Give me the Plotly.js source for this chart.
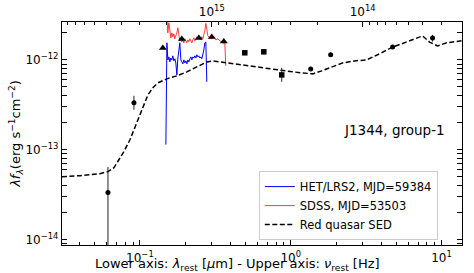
<!DOCTYPE html>
<html>
<head>
<meta charset="utf-8">
<script src="https://cdn.plot.ly/plotly-3.0.1.min.js"></script>
<style>html,body{margin:0;padding:0;background:#fff;}#chart{width:474px;height:273px;}</style>
</head>
<body>
<div id="chart"></div>
<script>
// ---- Data (rest wavelength in micron, lambda*f_lambda in erg s^-1 cm^-2) ----
const sedLam = [0.0304, 0.0401, 0.0543, 0.0614, 0.0673, 0.0715, 0.0783, 0.0859, 0.0955, 0.1047, 0.1130, 0.1219, 0.1316, 0.1510, 0.1758, 0.2048, 0.2314, 0.2497, 0.2778, 0.3043, 0.3387, 0.3769, 0.4595, 0.5515, 0.6526, 0.7602, 0.8852, 1.031, 1.201, 1.399, 1.604, 1.813, 2.017, 2.210, 2.653, 3.186, 3.885, 4.738, 5.434, 6.329, 6.936, 7.484, 8.329, 9.408, 10.79, 13.57];
const sedFlux = [5.01e-14, 5.14e-14, 5.41e-14, 5.70e-14, 6.31e-14, 7.36e-14, 9.50e-14, 1.29e-13, 2.05e-13, 3.01e-13, 4.08e-13, 4.89e-13, 5.55e-13, 6.15e-13, 6.64e-13, 7.36e-13, 8.15e-13, 8.80e-13, 9.50e-13, 9.75e-13, 9.50e-13, 9.26e-13, 8.80e-13, 8.58e-13, 8.15e-13, 7.94e-13, 7.55e-13, 7.36e-13, 7.17e-13, 6.99e-13, 7.55e-13, 8.15e-13, 8.80e-13, 9.26e-13, 9.75e-13, 1.0e-12, 1.17e-12, 1.39e-12, 1.51e-12, 1.67e-12, 1.75e-12, 1.85e-12, 1.58e-12, 1.43e-12, 1.55e-12, 1.63e-12];

const sdssLam = [0.1510, 0.1532, 0.1556, 0.1580, 0.1604, 0.1628, 0.1653, 0.1679, 0.1705, 0.1731, 0.1758, 0.1785, 0.1813, 0.1840, 0.1869, 0.1897, 0.1927, 0.1956, 0.1986, 0.2017, 0.2048, 0.2080, 0.2112, 0.2144, 0.2177, 0.2211, 0.2244, 0.2279, 0.2314, 0.2350, 0.2386, 0.2422, 0.2459, 0.2497, 0.2535, 0.2574, 0.2614, 0.2654, 0.2694, 0.2736, 0.2778, 0.2820, 0.2907, 0.2997, 0.3090, 0.3186, 0.3285, 0.3387, 0.3492, 0.3600, 0.3655, 0.3711];
const sdssFlux = [2.94e-12, 2.00e-12, 2.59e-12, 1.91e-12, 1.76e-12, 2.00e-12, 1.81e-12, 1.95e-12, 1.72e-12, 1.86e-12, 2.00e-12, 2.28e-12, 1.91e-12, 1.63e-12, 1.72e-12, 1.59e-12, 1.67e-12, 1.55e-12, 1.72e-12, 1.63e-12, 1.55e-12, 1.67e-12, 1.59e-12, 1.72e-12, 1.63e-12, 1.55e-12, 1.67e-12, 1.76e-12, 1.63e-12, 1.72e-12, 1.81e-12, 1.72e-12, 1.86e-12, 1.76e-12, 1.67e-12, 1.81e-12, 1.72e-12, 1.91e-12, 2.11e-12, 2.55e-12, 2.17e-12, 1.86e-12, 1.76e-12, 1.72e-12, 1.81e-12, 1.67e-12, 1.72e-12, 1.63e-12, 1.59e-12, 1.52e-12, 1.55e-12, 8.58e-13];

const hetLam = [0.1487, 0.1510, 0.1532, 0.1556, 0.1580, 0.1604, 0.1628, 0.1653, 0.1679, 0.1705, 0.1731, 0.1758, 0.1785, 0.1813, 0.1840, 0.1869, 0.1897, 0.1927, 0.1956, 0.1986, 0.2017, 0.2048, 0.2080, 0.2112, 0.2144, 0.2177, 0.2211, 0.2244, 0.2279, 0.2314, 0.2350, 0.2386, 0.2422, 0.2459, 0.2497, 0.2535, 0.2574, 0.2614, 0.2654, 0.2694, 0.2736, 0.2778];
const hetFlux = [1.14e-13, 1.55e-12, 1.0e-12, 1.08e-12, 9.5e-13, 1.05e-12, 1.0e-12, 1.11e-12, 9.75e-13, 1.03e-12, 9.26e-13, 6.81e-13, 1.05e-12, 1.29e-12, 1.55e-12, 1.0e-12, 9.5e-13, 9.03e-13, 1.0e-12, 9.26e-13, 9.75e-13, 9.03e-13, 1.0e-12, 9.5e-13, 1.03e-12, 1.08e-12, 1.0e-12, 1.08e-12, 1.05e-12, 1.11e-12, 1.05e-12, 1.14e-12, 1.08e-12, 1.11e-12, 1.05e-12, 1.08e-12, 1.03e-12, 1.14e-12, 1.29e-12, 1.55e-12, 1.58e-12, 5.70e-13];

const triLam = [0.1420, 0.1897, 0.2459, 0.2997, 0.3600];
const triFlux = [1.36e-12, 1.71e-12, 1.75e-12, 1.80e-12, 1.60e-12];

const uvLam = [0.0614, 0.0913];
const uvFlux = [3.33e-14, 3.33e-13];
const uvErrUp = [3.1e-14, 0.65e-13];
const uvErrDown = [3.3e-14, 0.55e-13];

const sqLam = [0.496, 0.663, 0.872];
const sqFlux = [1.20e-12, 1.23e-12, 6.81e-13];
const sqErrUp = [0.4e-13, 0.4e-13, 1.34e-13];
const sqErrDown = [0.4e-13, 0.4e-13, 1.1e-13];

const irLam = [1.357, 1.84, 4.74, 8.72];
const irFlux = [7.94e-13, 1.14e-12, 1.39e-12, 1.75e-12];
const irErr = [0.3e-13, 0.4e-13, 0.5e-13, 1.5e-13];

// ---- Tick labels ----
const xTickVals = [0.1, 1, 10];
const xTickText = ['10<sup>−1</sup>', '10<sup>0</sup>', '10<sup>1</sup>'];
const yTickVals = [1e-14, 1e-13, 1e-12];
const yTickText = ['10<sup>−14</sup>', '10<sup>−13</sup>', '10<sup>−12</sup>'];
const nuTickVals = [1e15, 1e14];
const nuTickText = ['10<sup>15</sup>', '10<sup>14</sup>'];

const C_UM = 2.998e14; // speed of light in micron/s
const mant = [2,3,4,5,6,7,8,9];
const xMinor = [];
[-2,-1,0,1].forEach(d => mant.forEach(m => xMinor.push(m * Math.pow(10, d))));
const yMinor = [];
[-15,-14,-13,-12].forEach(d => mant.forEach(m => yMinor.push(m * Math.pow(10, d))));
const nuMinor = [];
[13,14,15].forEach(d => mant.forEach(m => nuMinor.push(C_UM / (m * Math.pow(10, d)))));

const FONT = 'DejaVu Sans, sans-serif';

const traces = [
  {x: hetLam, y: hetFlux, mode: 'lines', line: {color: '#0000ff', width: 1}, name: 'HET/LRS2, MJD=59384'},
  {x: sdssLam, y: sdssFlux, mode: 'lines', line: {color: '#ff0000', width: 1}, opacity: 0.75, name: 'SDSS, MJD=53503'},
  {x: sedLam, y: sedFlux, mode: 'lines', line: {color: 'black', width: 1.5, dash: '5px,2.5px'}, name: 'Red quasar SED'},
  {x: triLam, y: triFlux, mode: 'markers', marker: {symbol: 'triangle-up', size: 7, color: 'black'}, showlegend: false},
  {x: uvLam, y: uvFlux, mode: 'markers', marker: {symbol: 'circle', size: 5, color: 'black'}, showlegend: false,
   error_y: {type: 'data', symmetric: false, array: uvErrUp, arrayminus: uvErrDown, color: '#222', thickness: 1, width: 0}},
  {x: sqLam, y: sqFlux, mode: 'markers', marker: {symbol: 'square', size: 5.5, color: 'black'}, showlegend: false,
   error_y: {type: 'data', symmetric: false, array: sqErrUp, arrayminus: sqErrDown, color: '#222', thickness: 1, width: 0}},
  {x: irLam, y: irFlux, mode: 'markers', marker: {symbol: 'circle', size: 5, color: 'black'}, showlegend: false,
   error_y: {type: 'data', array: irErr, color: '#222', thickness: 1, width: 0}},
  {x: [], y: [], xaxis: 'x2', mode: 'markers', showlegend: false, hoverinfo: 'skip'}
];

const xRange = [-1.5166, 1.1358];
const layout = {
  width: 474, height: 273,
  margin: {l: 62, r: 11.5, t: 22, b: 27.5},
  paper_bgcolor: 'white', plot_bgcolor: 'white',
  font: {family: FONT, size: 12, color: 'black'},
  showlegend: true,
  xaxis: {
    type: 'log', range: xRange, tickmode: 'array', tickvals: xTickVals, ticktext: xTickText,
    ticks: 'inside', ticklen: 5, tickwidth: 1, tickcolor: 'black', ticklabelstandoff: 1,
    showline: true, linecolor: 'black', linewidth: 1.2, mirror: true,
    showgrid: false, zeroline: false, automargin: false,
    tickfont: {family: FONT, size: 12},
    minor: {tickmode: 'array', tickvals: xMinor, ticks: 'inside', ticklen: 3, tickwidth: 1, tickcolor: 'black', showgrid: false}
  },
  xaxis2: {
    type: 'log', range: xRange, overlaying: 'x', side: 'top', anchor: 'y',
    tickmode: 'array', tickvals: nuTickVals.map(v => C_UM / v), ticktext: nuTickText,
    ticks: 'inside', ticklen: 5, tickwidth: 1, tickcolor: 'black', ticklabelstandoff: 3,
    showline: false, showgrid: false, zeroline: false, automargin: false,
    tickfont: {family: FONT, size: 12},
    minor: {tickmode: 'array', tickvals: nuMinor, ticks: 'inside', ticklen: 3, tickwidth: 1, tickcolor: 'black', showgrid: false}
  },
  yaxis: {
    type: 'log', range: [-14.061, -11.578], tickmode: 'array', tickvals: yTickVals, ticktext: yTickText,
    ticks: 'inside', ticklen: 5, tickwidth: 1, tickcolor: 'black',
    showline: true, linecolor: 'black', linewidth: 1.2, mirror: 'allticks',
    showgrid: false, zeroline: false, automargin: false,
    tickfont: {family: FONT, size: 12},
    minor: {tickmode: 'array', tickvals: yMinor, ticks: 'inside', ticklen: 3, tickwidth: 1, tickcolor: 'black', showgrid: false},
    title: {text: '<i>λf</i><sub><i>λ</i></sub>(erg s<sup>−1</sup>cm<sup>−2</sup>)', font: {family: FONT, size: 13}, standoff: 1}
  },
  legend: {
    x: 0.492, y: 0.022, xanchor: 'left', yanchor: 'bottom',
    bgcolor: 'rgba(255,255,255,0.8)', bordercolor: '#cccccc', borderwidth: 1,
    font: {family: FONT, size: 11.5}, itemwidth: 30, tracegroupgap: 0
  },
  annotations: [
    {text: 'J1344, group-1', xref: 'paper', yref: 'paper', x: 0.962, y: 0.517,
     xanchor: 'right', yanchor: 'middle', showarrow: false, font: {family: FONT, size: 13.5}},
    {text: 'Lower axis: <i>λ</i><sub>rest</sub> [<i>μ</i>m] - Upper axis: <i>ν</i><sub>rest</sub> [Hz]',
     xref: 'paper', yref: 'paper', x: 0.0774, y: -0.087, xanchor: 'left', yanchor: 'middle',
     showarrow: false, font: {family: FONT, size: 13}}
  ]
};

Plotly.newPlot('chart', traces, layout, {displayModeBar: false, staticPlot: true});
</script>
</body>
</html>
